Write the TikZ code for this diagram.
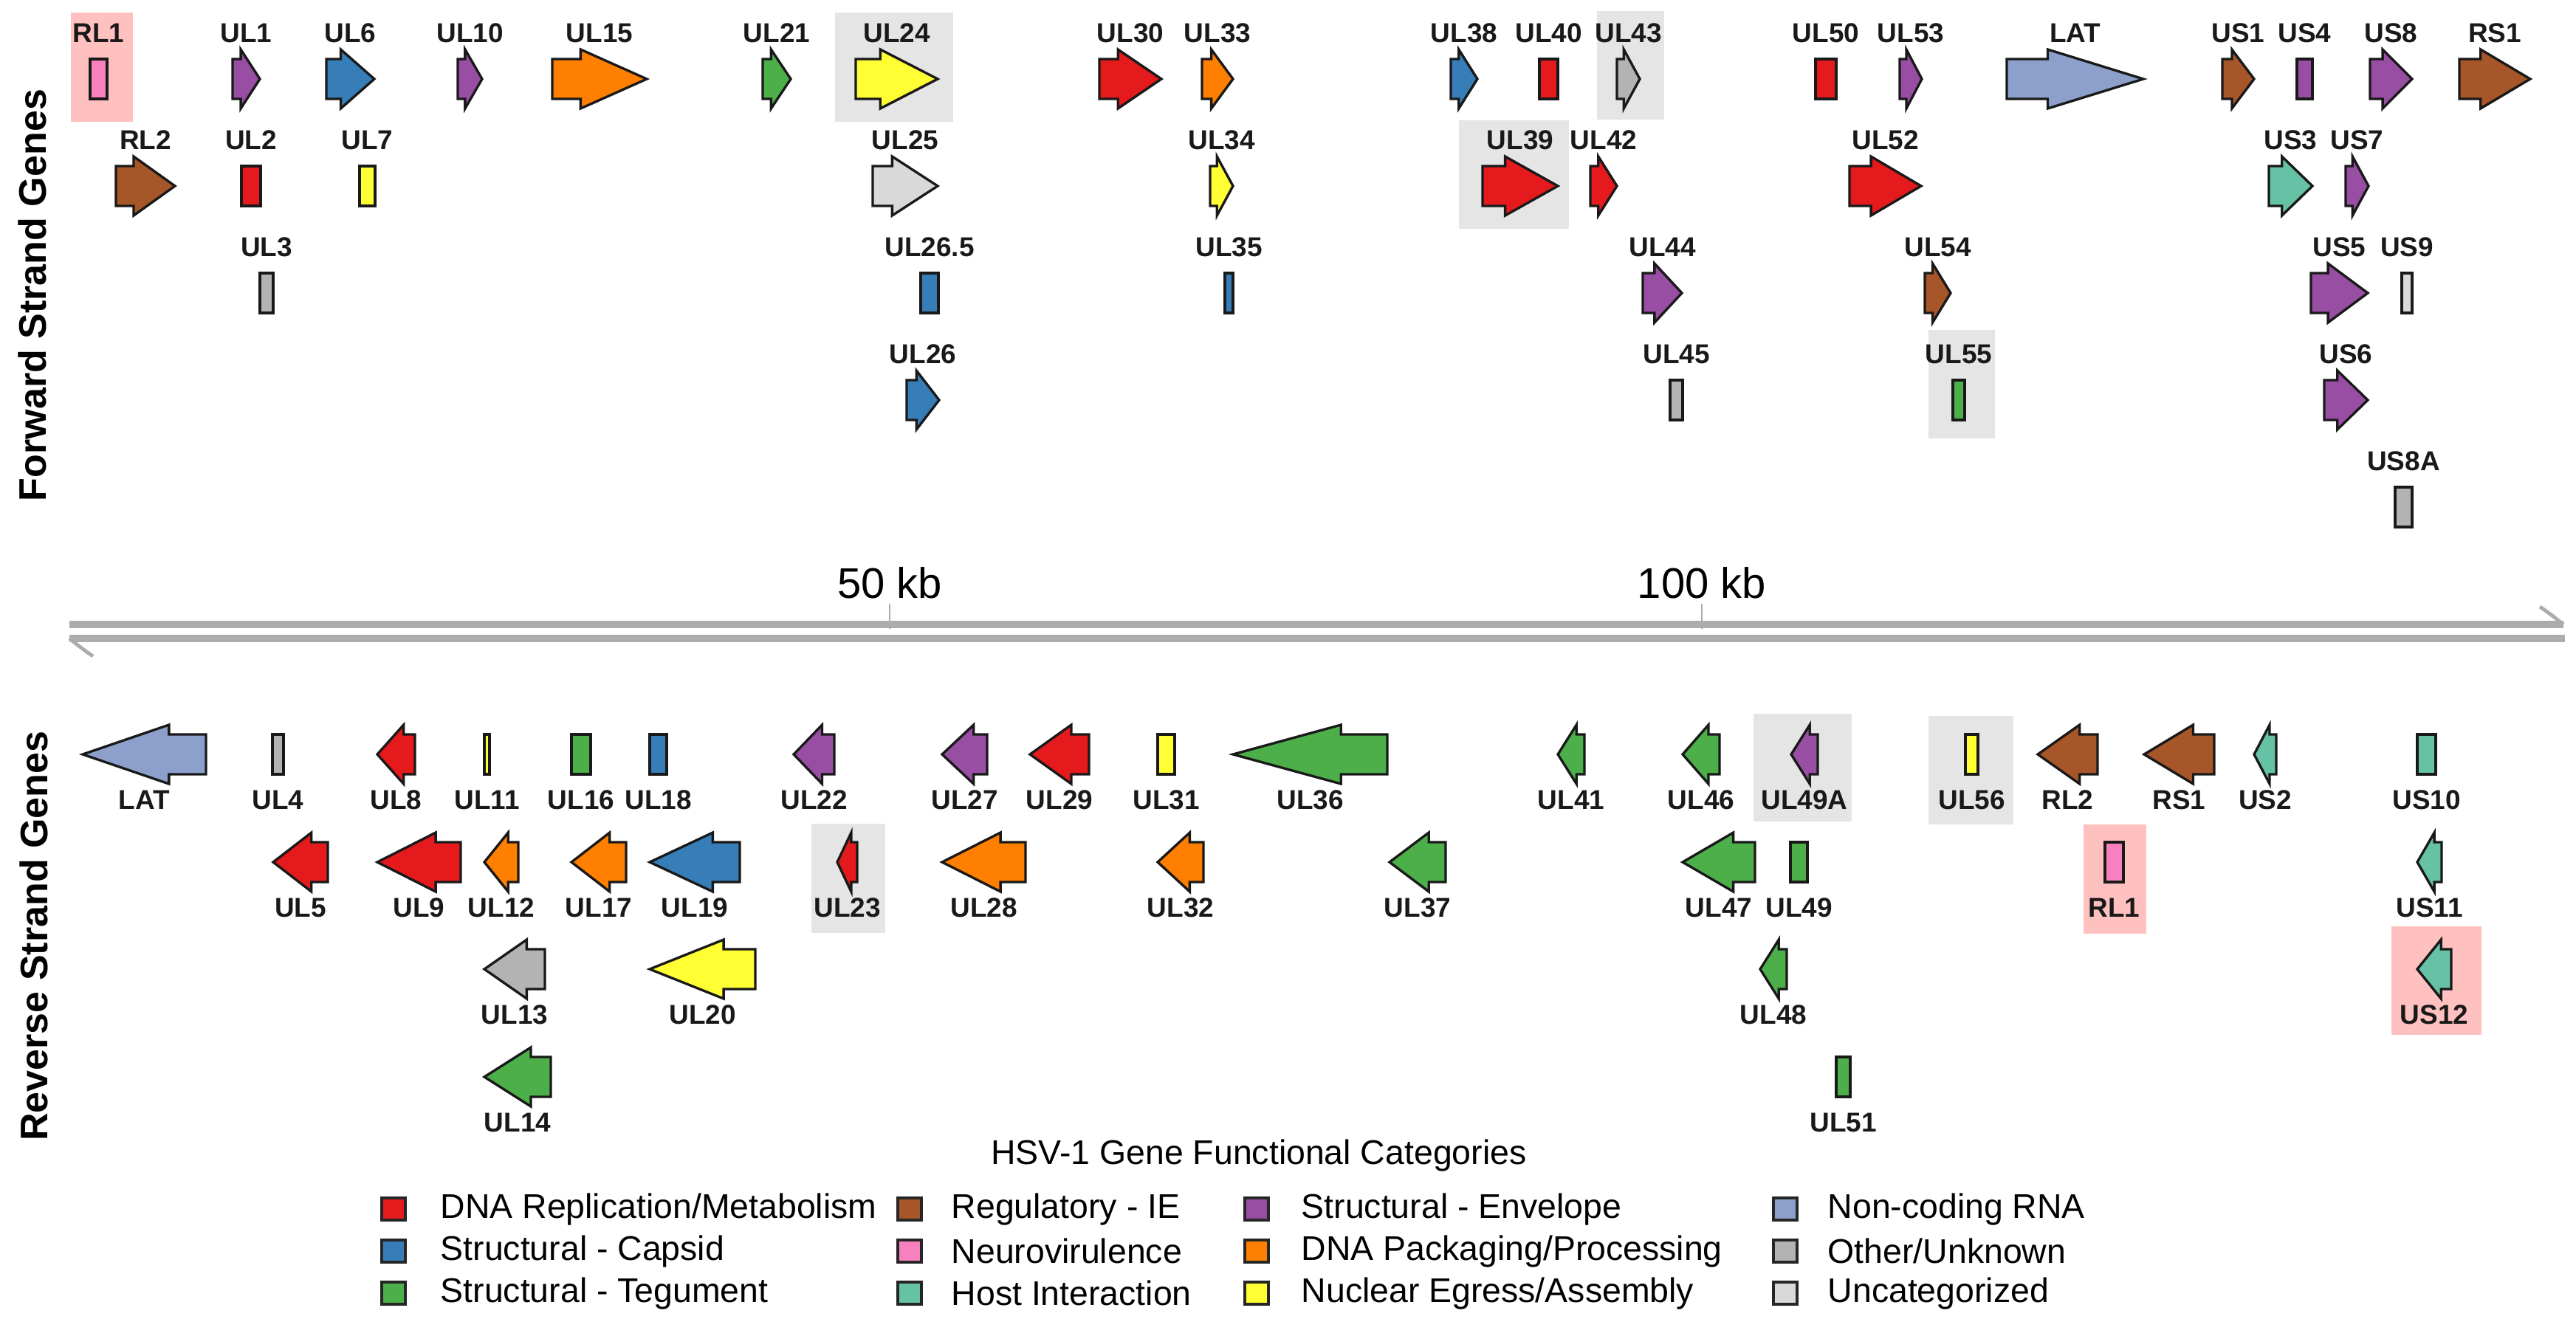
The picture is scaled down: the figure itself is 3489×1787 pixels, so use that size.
\documentclass[tikz,border=0pt]{standalone}
\usepackage{fontspec}
\setmainfont{Liberation Sans}
\usepackage{tikz}

% category colours
\definecolor{cRep}{HTML}{E41A1C}
\definecolor{cCap}{HTML}{377EB8}
\definecolor{cTeg}{HTML}{4DAF4A}
\definecolor{cIE}{HTML}{A65628}
\definecolor{cNeu}{HTML}{F781BF}
\definecolor{cHost}{HTML}{66C2A5}
\definecolor{cEnv}{HTML}{984EA3}
\definecolor{cPack}{HTML}{FF7F00}
\definecolor{cEgr}{HTML}{FFFF33}
\definecolor{cRNA}{HTML}{8DA0CB}
\definecolor{cOther}{HTML}{B3B3B3}
\definecolor{cUnc}{HTML}{D9D9D9}
\definecolor{hlgrey}{HTML}{E5E5E5}
\definecolor{hlpink}{HTML}{FFC0C0}

\tikzset{
  gene/.style={draw=black!90, line width=0.95pt, line join=miter},
  genelabel/.style={font=\fontsize{10.5}{12}\selectfont\bfseries, text=black!90, inner sep=0pt},
  hlbox/.style={fill=hlgrey},
  hlpinkbox/.style={fill=hlpink},
  strandlabel/.style={font=\fontsize{14.8}{17}\selectfont\bfseries, rotate=90, inner sep=0pt},
  kblabel/.style={font=\fontsize{16.5}{19}\selectfont, inner sep=0pt},
  axisbar/.style={draw=gray!65, line width=3.1pt},
  axisbarb/.style={draw=gray!65, line width=1.4pt},
  axistick/.style={draw=gray!65, line width=0.5pt},
  legkey/.style={draw=black!85, line width=1pt, minimum width=0.32cm, minimum height=0.3cm, inner sep=0pt},
  legtext/.style={anchor=west, font=\fontsize{13.2}{16}\selectfont, inner sep=0pt},
}

% gene arrow: tail, tip, row, colour
\newcommand{\genearrow}[5]{%
  \pgfmathsetmacro{\gnotch}{#2+0.3*(#3-#2)}
  \draw[gene, fill=#5] (#2,#4-27) -- (\gnotch,#4-27) -- (\gnotch,#4-40) -- (#3,#4)
    -- (\gnotch,#4+40) -- (\gnotch,#4+27) -- (#2,#4+27) -- cycle;
}
\newcommand{\fwdgene}[6]{%
  \genearrow{#2}{#3}{#4}{#5}{#6}
  \node[genelabel] (#1) at ({(#3+#4)/2},#5-62) {#2};
}
\newcommand{\revgene}[6]{%
  \genearrow{#2}{#3}{#4}{#5}{#6}
  \node[genelabel] (#1) at ({(#3+#4)/2},#5+62) {#2};
}
% gene box: name, text, left, right, row, colour
\newcommand{\fwdbox}[6]{%
  \draw[gene, fill=#6] (#3,#5-27) rectangle (#4,#5+27);
  \node[genelabel] (#1) at ({(#3+#4)/2},#5-62) {#2};
}
\newcommand{\revbox}[6]{%
  \draw[gene, fill=#6] (#3,#5-27) rectangle (#4,#5+27);
  \node[genelabel] (#1) at ({(#3+#4)/2},#5+62) {#2};
}

\begin{document}
\begin{tikzpicture}[x=0.01cm, y=-0.01cm]
  \useasboundingbox (0,0) rectangle (3489,1787);

  % Highlights
  \fill[hlpinkbox] (96,17) rectangle (180,165);
  \fill[hlbox] (1131,17) rectangle (1291,165);
  \fill[hlbox] (2163,15) rectangle (2254,162);
  \fill[hlbox] (1976,163) rectangle (2125,310);
  \fill[hlbox] (2612,447) rectangle (2702,594);
  \fill[hlbox] (1099,1116) rectangle (1199,1264);
  \fill[hlbox] (2375,967) rectangle (2508,1113);
  \fill[hlbox] (2612,970) rectangle (2727,1117);
  \fill[hlpinkbox] (2822,1117) rectangle (2907,1265);
  \fill[hlpinkbox] (3239,1255) rectangle (3361,1402);

  % Strand titles
  \node[strandlabel] (fwdtitle) at (44,400) {Forward Strand Genes};
  \node[strandlabel] (revtitle) at (46,1268) {Reverse Strand Genes};

  % Forward strand
  \fwdbox{fRL1}{RL1}{122}{145}{107}{cNeu}
  \fwdgene{fUL1}{UL1}{315}{352}{107}{cEnv}
  \fwdgene{fUL6}{UL6}{442}{507}{107}{cCap}
  \fwdgene{fUL10}{UL10}{620}{653}{107}{cEnv}
  \fwdgene{fUL15}{UL15}{748}{876}{107}{cPack}
  \fwdgene{fUL21}{UL21}{1033}{1071}{107}{cTeg}
  \fwdgene{fUL24}{UL24}{1159}{1270}{107}{cEgr}
  \fwdgene{fUL30}{UL30}{1489}{1573}{107}{cRep}
  \fwdgene{fUL33}{UL33}{1628}{1670}{107}{cPack}
  \fwdgene{fUL38}{UL38}{1965}{2001}{107}{cCap}
  \fwdbox{fUL40}{UL40}{2085}{2110}{107}{cRep}
  \fwdgene{fUL43}{UL43}{2190}{2221}{107}{cOther}
  \fwdbox{fUL50}{UL50}{2459}{2487}{107}{cRep}
  \fwdgene{fUL53}{UL53}{2573}{2603}{107}{cEnv}
  \fwdgene{fLAT}{LAT}{2718}{2903}{107}{cRNA}
  \fwdgene{fUS1}{US1}{3010}{3053}{107}{cIE}
  \fwdbox{fUS4}{US4}{3111}{3132}{107}{cEnv}
  \fwdgene{fUS8}{US8}{3210}{3267}{107}{cEnv}
  \fwdgene{fRS1}{RS1}{3331}{3427}{107}{cIE}

  \fwdgene{fRL2}{RL2}{157}{237}{252}{cIE}
  \fwdbox{fUL2}{UL2}{327}{353}{252}{cRep}
  \fwdbox{fUL7}{UL7}{487}{508}{252}{cEgr}
  \fwdgene{fUL25}{UL25}{1182}{1270}{252}{cUnc}
  \fwdgene{fUL34}{UL34}{1639}{1670}{252}{cEgr}
  \fwdgene{fUL39}{UL39}{2008}{2110}{252}{cRep}
  \fwdgene{fUL42}{UL42}{2154}{2190}{252}{cRep}
  \fwdgene{fUL52}{UL52}{2505}{2602}{252}{cRep}
  \fwdgene{fUS3}{US3}{3073}{3132}{252}{cHost}
  \fwdgene{fUS7}{US7}{3177}{3208}{252}{cEnv}

  \fwdbox{fUL3}{UL3}{352}{370}{397}{cOther}
  \fwdbox{fUL265}{UL26.5}{1247}{1271}{397}{cCap}
  \fwdbox{fUL35}{UL35}{1659}{1670}{397}{cCap}
  \fwdgene{fUL44}{UL44}{2225}{2278}{397}{cEnv}
  \fwdgene{fUL54}{UL54}{2607}{2642}{397}{cIE}
  \fwdgene{fUS5}{US5}{3130}{3207}{397}{cEnv}
  \fwdbox{fUS9}{US9}{3253}{3267}{397}{cUnc}

  \fwdgene{fUL26}{UL26}{1228}{1272}{542}{cCap}
  \fwdbox{fUL45}{UL45}{2262}{2279}{542}{cOther}
  \fwdbox{fUL55}{UL55}{2645}{2661}{542}{cTeg}
  \fwdgene{fUS6}{US6}{3148}{3207}{542}{cEnv}

  \fwdbox{fUS8A}{US8A}{3244}{3267}{687}{cOther}

  % Genome axis
  \coordinate (fwdL) at (94,846);
  \coordinate (fwdR) at (3472,846);
  \coordinate (revL) at (94,865);
  \coordinate (revR) at (3474,865);
  \draw[axistick] (1205,818) -- (1205,852);
  \draw[axistick] (2305,818) -- (2305,852);
  \draw[axisbar] (fwdL) -- (fwdR);
  \draw[axisbar] (revR) -- (revL);
  \draw[axisbarb] (fwdR) .. controls (3462,838) and (3452,830) .. (3440,822);
  \draw[axisbarb] (revL) .. controls (104,873) and (114,881) .. (126,889);
  \node[kblabel] (kb50) at (1205,790) {50 kb};
  \node[kblabel] (kb100) at (2305,790) {100 kb};

  % Reverse strand
  \revgene{rLAT}{LAT}{279}{112}{1022}{cRNA}
  \revbox{rUL4}{UL4}{369}{384}{1022}{cOther}
  \revgene{rUL8}{UL8}{562}{511}{1022}{cRep}
  \revbox{rUL11}{UL11}{656}{663}{1022}{cEgr}
  \revbox{rUL16}{UL16}{774}{800}{1022}{cTeg}
  \revbox{rUL18}{UL18}{880}{903}{1022}{cCap}
  \revgene{rUL22}{UL22}{1130}{1075}{1022}{cEnv}
  \revgene{rUL27}{UL27}{1337}{1276}{1022}{cEnv}
  \revgene{rUL29}{UL29}{1475}{1395}{1022}{cRep}
  \revbox{rUL31}{UL31}{1568}{1591}{1022}{cEgr}
  \revgene{rUL36}{UL36}{1879}{1670}{1022}{cTeg}
  \revgene{rUL41}{UL41}{2146}{2110}{1022}{cTeg}
  \revgene{rUL46}{UL46}{2329}{2279}{1022}{cTeg}
  \revgene{rUL49A}{UL49A}{2462}{2426}{1022}{cEnv}
  \revbox{rUL56}{UL56}{2662}{2679}{1022}{cEgr}
  \revgene{rRL2}{RL2}{2841}{2760}{1022}{cIE}
  \revgene{rRS1}{RS1}{2999}{2904}{1022}{cIE}
  \revgene{rUS2}{US2}{3083}{3053}{1022}{cHost}
  \revbox{rUS10}{US10}{3274}{3299}{1022}{cHost}

  \revgene{rUL5}{UL5}{444}{370}{1168}{cRep}
  \revgene{rUL9}{UL9}{624}{511}{1168}{cRep}
  \revgene{rUL12}{UL12}{702}{656}{1168}{cPack}
  \revgene{rUL17}{UL17}{848}{774}{1168}{cPack}
  \revgene{rUL19}{UL19}{1002}{880}{1168}{cCap}
  \revgene{rUL23}{UL23}{1161}{1134}{1168}{cRep}
  \revgene{rUL28}{UL28}{1389}{1276}{1168}{cPack}
  \revgene{rUL32}{UL32}{1630}{1568}{1168}{cPack}
  \revgene{rUL37}{UL37}{1958}{1882}{1168}{cTeg}
  \revgene{rUL47}{UL47}{2377}{2279}{1168}{cTeg}
  \revbox{rUL49}{UL49}{2425}{2448}{1168}{cTeg}
  \revbox{rRL1}{RL1}{2851}{2876}{1168}{cNeu}
  \revgene{rUS11}{US11}{3307}{3274}{1168}{cHost}

  \revgene{rUL13}{UL13}{738}{656}{1313}{cOther}
  \revgene{rUL20}{UL20}{1023}{880}{1313}{cEgr}
  \revgene{rUL48}{UL48}{2420}{2384}{1313}{cTeg}
  \revgene{rUS12}{US12}{3320}{3274}{1313}{cHost}

  \revgene{rUL14}{UL14}{746}{656}{1459}{cTeg}
  \revbox{rUL51}{UL51}{2487}{2506}{1459}{cTeg}

  % Legend
  \node[legtext, anchor=center] (legtitle) at (1705,1565) {HSV-1 Gene Functional Categories};
  \node[legkey, fill=cRep] (kRep) at (533,1638) {};
  \node[legtext] (tRep) at (596,1638) {DNA Replication/Metabolism};
  \node[legkey, fill=cCap] (kCap) at (533,1695) {};
  \node[legtext] (tCap) at (596,1695) {Structural - Capsid};
  \node[legkey, fill=cTeg] (kTeg) at (533,1752) {};
  \node[legtext] (tTeg) at (596,1752) {Structural - Tegument};
  \node[legkey, fill=cIE] (kIE) at (1232,1638) {};
  \node[legtext] (tIE) at (1288,1638) {Regulatory - IE};
  \node[legkey, fill=cNeu] (kNeu) at (1232,1695) {};
  \node[legtext] (tNeu) at (1288,1695) {Neurovirulence};
  \node[legkey, fill=cHost] (kHost) at (1232,1752) {};
  \node[legtext] (tHost) at (1288,1752) {Host Interaction};
  \node[legkey, fill=cEnv] (kEnv) at (1702,1638) {};
  \node[legtext] (tEnv) at (1762,1638) {Structural - Envelope};
  \node[legkey, fill=cPack] (kPack) at (1702,1695) {};
  \node[legtext] (tPack) at (1762,1695) {DNA Packaging/Processing};
  \node[legkey, fill=cEgr] (kEgr) at (1702,1752) {};
  \node[legtext] (tEgr) at (1762,1752) {Nuclear Egress/Assembly};
  \node[legkey, fill=cRNA] (kRNA) at (2418,1638) {};
  \node[legtext] (tRNA) at (2475,1638) {Non-coding RNA};
  \node[legkey, fill=cOther] (kOther) at (2418,1695) {};
  \node[legtext] (tOther) at (2475,1695) {Other/Unknown};
  \node[legkey, fill=cUnc] (kUnc) at (2418,1752) {};
  \node[legtext] (tUnc) at (2475,1752) {Uncategorized};

\end{tikzpicture}
\end{document}
